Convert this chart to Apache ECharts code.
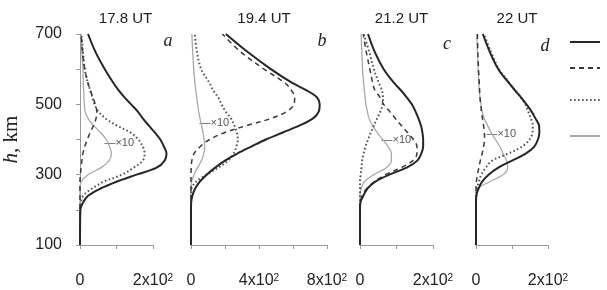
<!DOCTYPE html>
<html><head><meta charset="utf-8">
<script src="https://cdn.jsdelivr.net/npm/echarts@6/dist/echarts.min.js"></script>
<style>html,body{margin:0;padding:0;background:#fff}#c{width:607px;height:290px}</style>
</head><body><div id="c"></div>
<script>
// Heights (km) shared by all profiles
const H = [100,200,220,240,260,280,300,320,340,360,380,400,420,440,460,480,500,520,540,560,600,650,700];

// Panel a (17.8 UT)
const A_SOLID  = [0,1,8,22,55,100,155,210,232,237,230,220,205,188,172,158,140,122,106,92,68,42,22];
const A_DASHED = [0,0,0,0,0,0,1,3,5,8,13,20,28,37,44,46,42,35,28,22,13,7,3];
const A_DOTTED = [0,0,2,9,32,65,115,147,172,177,172,160,138,100,70,50,40,34,28,22,13,8,4];
const A_GRAY   = [0,0,0,0,0,3,22,58,80,86,81,72,56,37,22,14,12,11,10,9,8,5,3];
// Panel b (19.4 UT)
const B_SOLID  = [0,0,1,8,24,52,92,142,200,272,355,440,540,640,718,752,757,740,680,598,470,330,205];
const B_DASHED = [0,0,0,0,0,0,0,1,5,18,55,110,200,330,472,565,605,610,590,555,430,290,185];
const B_DOTTED = [0,0,0,0,3,30,92,160,218,250,267,275,270,255,235,203,180,160,130,110,60,35,22];
const B_GRAY   = [0,0,0,0,0,3,18,38,62,75,80,77,70,62,53,45,39,33,28,23,16,10,5];
// Panel c (21.2 UT)
const C_SOLID  = [0,0,1,9,20,42,80,128,157,168,173,173,171,167,160,152,142,128,112,94,65,40,22];
const C_DASHED = [0,0,1,6,18,40,70,113,145,156,156,146,130,113,97,81,65,55,41,35,27,17,9];
const C_DOTTED = [0,0,0,0,0,0,2,4,6,10,15,22,30,38,47,56,62,63,60,52,38,25,10];
const C_GRAY   = [0,0,0,0,3,12,38,72,86,86,77,62,47,34,25,20,16,14,12,10,7,5,3];
// Panel d (22 UT)
const D_SOLID  = [0,0,0,1,7,17,35,62,100,138,162,172,176,175,165,154,140,125,108,92,62,38,19];
const D_DASHED = [0,0,0,0,0,1,4,8,12,17,21,24,23,21,18,15,13,11,10,9,7,5,4];
const D_DOTTED = [0,0,0,0,3,8,15,27,45,90,128,149,157,158,152,145,137,124,108,93,64,41,22];
const D_GRAY   = [0,0,0,0,4,38,75,88,85,75,66,54,42,32,23,17,14,11,9,8,6,4,2];

const TITLES = ['17.8 UT','19.4 UT','21.2 UT','22 UT'];
const LETTERS = ['a','b','c','d'];
const X_MAX = [200,800,200,200];       // visible axis extent
const X_DATA_MAX = [260,800,200,200];  // plotting extent (curves may run past the axis end)
const X_INT = [100,200,100,100];
const X_LABELS = [{0:'0',200:'2x10{s|2}'},{0:'0',400:'4x10{s|2}',800:'8x10{s|2}'},{0:'0',200:'2x10{s|2}'},{0:'0',200:'2x10{s|2}'}];
const Y_LABELS = {100:'100',300:'300',500:'500',700:'700'};
// ×10 annotation anchor on the gray curve: [value, h]
const X10 = [[71,384],[59,441],[63,393],[33,410]];

const PANELS = [
  [A_SOLID,A_DASHED,A_DOTTED,A_GRAY],
  [B_SOLID,B_DASHED,B_DOTTED,B_GRAY],
  [C_SOLID,C_DASHED,C_DOTTED,C_GRAY],
  [D_SOLID,D_DASHED,D_DOTTED,D_GRAY]
];

const GRID_POS = [[80,73],[191,136],[360,73],[476,72]];
const NAMES = ['solid','dashed','dotted','gray'];
const STYLES = [
  {color:'#262626', width:2, type:'solid'},
  {color:'#3a3a3a', width:1.5, type:[5,4]},
  {color:'#555555', width:2, type:[1.6,2.4]},
  {color:'#a9a9a9', width:1.3, type:'solid'}
];

const FONT = 'Liberation Sans, Arial, sans-serif';
const grid=[], xAxis=[], yAxis=[], series=[], title=[];
const N = GRID_POS.length;
// display grids (axes)
GRID_POS.forEach((g,i)=>{
  grid.push({left:g[0], width:g[1], top:34, height:211});
  xAxis.push({type:'value', gridIndex:i, min:0, max:X_MAX[i], interval:X_INT[i],
    axisLine:{show:true, onZero:false, lineStyle:{color:'#9a9a9a', width:1}},
    axisTick:{show:true, length:4, lineStyle:{color:'#9a9a9a'}},
    splitLine:{show:false},
    axisLabel:{margin:28, fontSize:16, fontFamily:FONT, color:'#222',
      formatter:v=>X_LABELS[i][v]||'',
      rich:{s:{fontSize:10, fontFamily:FONT, color:'#222', verticalAlign:'top', padding:[0,0,6,0]}}}
  });
  yAxis.push({type:'value', gridIndex:i, min:100, max:700, interval:100,
    axisLine:{show:i===0, onZero:false, lineStyle:{color:'#9a9a9a'}},
    axisTick:{show:i===0, length:4, lineStyle:{color:'#9a9a9a'}},
    splitLine:{show:false},
    axisLabel:{show:i===0, margin:18, fontSize:16, fontFamily:FONT, color:'#222', formatter:v=>Y_LABELS[v]||''},
    name: i===0 ? '{i|h}{n|, km}' : '',
    nameLocation:'middle', nameRotate:90, nameGap:58,
    nameTextStyle:{rich:{i:{fontFamily:'Liberation Serif, serif', fontStyle:'italic', fontSize:21, color:'#222'},
                         n:{fontFamily:'Liberation Serif, serif', fontSize:21, color:'#222'}}}
  });
  title.push({text:TITLES[i], left:g[0]+g[1]/2+(i===0?4:0), top:6, textAlign:'center',
    textStyle:{fontSize:15, fontWeight:'normal', fontFamily:FONT, color:'#222'}});
});
// data grids (same scale, wider so curves are not cut at the axis end)
GRID_POS.forEach((g,i)=>{
  const gi = N + i;
  grid.push({left:g[0], width:g[1]*X_DATA_MAX[i]/X_MAX[i], top:34, height:211});
  xAxis.push({type:'value', gridIndex:gi, min:0, max:X_DATA_MAX[i], show:false});
  yAxis.push({type:'value', gridIndex:gi, min:100, max:700, show:false});
  PANELS[i].forEach((vals,k)=>{
    const s = {type:'line', name:NAMES[k], xAxisIndex:gi, yAxisIndex:gi, symbol:'none', smooth:0.35,
      clip:false, silent:true, animation:false, z: 10-k,
      lineStyle:{color:STYLES[k].color, width:STYLES[k].width, type:STYLES[k].type},
      itemStyle:{color:STYLES[k].color},
      data: vals.map((v,j)=>[v,H[j]])};
    if(k===3){
      s.markPoint = {symbol:'circle', symbolSize:1, silent:true, animation:false,
        itemStyle:{color:'rgba(0,0,0,0)'},
        data:[{coord:X10[i], label:{show:true, position:'right', distance:0, offset:[-2,-2], formatter:'—×10',
          fontSize:11, fontFamily:FONT, color:'#555'}}]};
    }
    series.push(s);
  });
});
const LETTER_POS = [[163,27],[317,27],[442,30],[540,32]];
LETTERS.forEach((l,i)=>title.push({text:l, left:LETTER_POS[i][0], top:LETTER_POS[i][1], textAlign:'center',
  textStyle:{fontSize:18, fontStyle:'italic', fontWeight:'normal', fontFamily:'Liberation Serif, serif', color:'#222'}}));

const LEG_Y = [42,68,100,136];
const legend = NAMES.map((n,k)=>({data:[n], left:569, top:LEG_Y[k]-7, itemWidth:30, itemHeight:14,
  selectedMode:false, formatter:()=>'', textStyle:{fontSize:1}, itemGap:0, padding:0,
  itemStyle:{opacity:0}}));

const chart = echarts.init(document.getElementById('c'), null, {renderer:'canvas'});
chart.setOption({backgroundColor:'#fff', animation:false, title, grid, xAxis, yAxis, series, legend});
</script></body></html>
